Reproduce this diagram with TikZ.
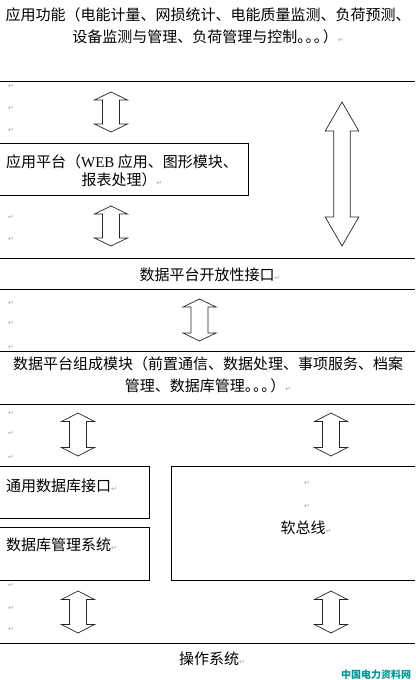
\documentclass[tikz,border=0pt]{standalone}
\usepackage{fontspec}
\setmainfont{Liberation Serif}
\newfontfamily\cjk{Noto Sans CJK SC}
\newfontfamily\symf{DejaVu Sans}
\newcommand\rt{{\symf\fontsize{7}{7}\selectfont\textcolor{black!35}{↵}}}
\newcommand\cdts{。\kern-0.45em。\kern-0.45em。\kern-0.4em}
\newcommand\blockarrow[6]{% cx, top, bottom, head half width, shaft half width, head height
  \draw[barrow] (#1,#2) -- ({#1+#4},{#2+#6}) -- ({#1+#5},{#2+#6}) -- ({#1+#5},{#3-#6})
    -- ({#1+#4},{#3-#6}) -- (#1,#3) -- ({#1-#4},{#3-#6}) -- ({#1-#5},{#3-#6})
    -- ({#1-#5},{#2+#6}) -- ({#1-#4},{#2+#6}) -- cycle;}
\begin{document}
\begin{tikzpicture}[x=1pt,y=-1pt,
  sep/.style={line width=0.9pt,black},
  barrow/.style={line width=0.7pt,black!85,fill=white},
  boxsty/.style={draw,line width=0.9pt,inner sep=0pt},
  txt/.style={font=\cjk\fontsize{15}{22}\selectfont,inner sep=0pt,align=center},
  pmark/.style={inner sep=0pt}]
\useasboundingbox (0,0) rectangle (415,680);
\fill[white] (0,0) rectangle (415,680);
\begin{scope}
\clip (0,0) rectangle (415,680);
% top text
\node[txt] (func) at (208,26) {应用功能（电能计量、网损统计、电能质量监测、负荷预测、\\设备监测与管理、负荷管理与控制\cdts）\rt};
% separator lines
\draw[sep] (0,81) -- (415,81);
\draw[sep] (0,258) -- (415,258);
\draw[sep] (0,289) -- (415,289);
\draw[sep] (0,351) -- (415,351);
\draw[sep] (0,404) -- (415,404);
\draw[sep] (0,643) -- (415,643);
% application platform box
\node[boxsty,minimum width=250pt,minimum height=52pt] (app) at (123.5,169) {};
\node[txt,font=\cjk\fontsize{15}{18}\selectfont] (apptxt) at (122,171) {应用平台（{\rmfamily WEB} 应用、图形模块、\\报表处理）\rt};
% arrows upper
\blockarrow{111}{92}{132}{16.5}{8.5}{8}
\blockarrow{111}{206}{246}{16.5}{8.5}{8}
\blockarrow{342}{102}{246}{16.8}{8.3}{29}
% open interface
\node[txt] (open) at (210,275) {数据平台开放性接口\rt};
\blockarrow{199.5}{299}{341}{16.5}{8.5}{8}
% components
\node[txt] (comp) at (208,375) {数据平台组成模块（前置通信、数据处理、事项服务、档案\\管理、数据库管理\cdts）\rt};
% lower arrows
\blockarrow{78}{413}{456}{16.5}{8.5}{8.5}
\blockarrow{331}{413}{456}{16.5}{8.5}{8.5}
% boxes
\node[boxsty,minimum width=151pt,minimum height=52pt] (dbi) at (74,492) {};
\node[boxsty,minimum width=151pt,minimum height=53pt] (dbm) at (74,554) {};
\node[boxsty,minimum width=246pt,minimum height=114pt] (bus) at (294,523) {};
\node[txt,anchor=west] (dbitxt) at (6,486) {通用数据库接口\rt};
\node[txt,anchor=west] (dbmtxt) at (6,545) {数据库管理系统\rt};
\node[txt] (bustxt) at (306,528) {软总线\rt};
\node[pmark] (bm1) at (307,483) {\rt};
\node[pmark] (bm2) at (307,506) {\rt};
% bottom arrows
\blockarrow{78}{591}{633}{16.5}{8.5}{8.5}
\blockarrow{331}{591}{633}{16.5}{8.5}{8.5}
% OS
\node[txt] (os) at (212,659) {操作系统\rt};
% paragraph marks on the left
\foreach \yy [count=\i] in {86,108,130,217,239,303,323,347,413,433,457,585,608,629}
  \node[pmark] (pm\i) at (11,\yy) {\rt};
% watermark
\node[inner sep=0pt,font=\cjk\bfseries\fontsize{10}{10}\selectfont,text=teal!80!cyan] (wm) at (376,675) {中国电力资料网};
\end{scope}
\end{tikzpicture}
\end{document}
